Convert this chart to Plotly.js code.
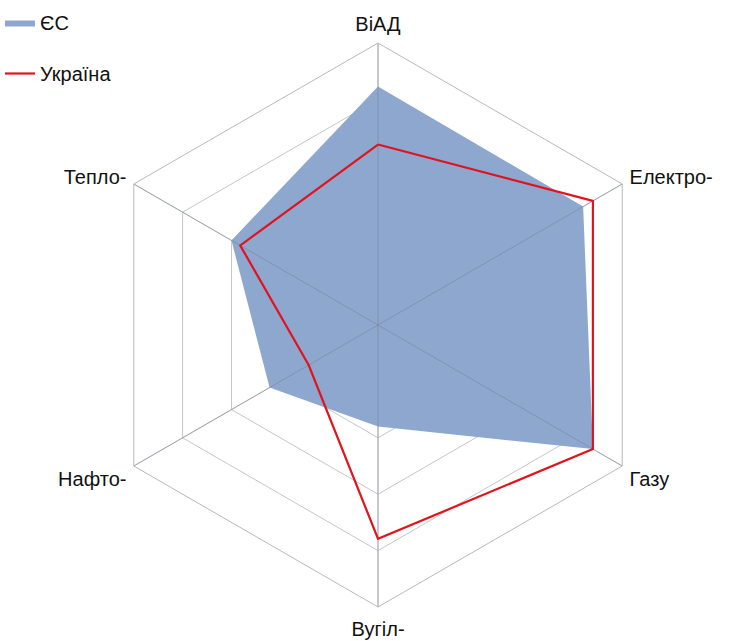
<!DOCTYPE html>
<html><head><meta charset="utf-8">
<script src="https://cdn.plot.ly/plotly-3.0.1.min.js"></script>
<style>html,body{margin:0;padding:0;background:#fff}#chart{width:737px;height:641px}</style>
</head><body><div id="chart"></div>
<script>
const categories = ['ВіАД', 'Електро-', 'Газу', 'Вугіл-', 'Нафто-', 'Тепло-'];
const euValues = [4.23, 4.2, 4.4, 1.8, 2.22, 3.0];
const uaValues = [3.2, 4.4, 4.4, 3.79, 1.42, 2.82];
const seriesNames = ['ЄС', 'Україна'];
const rMax = 5;

const closeLoop = a => a.concat([a[0]]);
const thetaClosed = closeLoop(categories);

const traces = [
  {
    type: 'scatterpolar', name: seriesNames[0], r: closeLoop(euValues), theta: thetaClosed,
    fill: 'toself', fillcolor: '#8ea7cf', mode: 'lines', line: {color: '#8ea7cf', width: 0},
    legendgroup: 'a', hoverinfo: 'r+theta'
  }
];
// spokes shown over the filled area (as in the reference)
categories.forEach(c => {
  traces.push({
    type: 'scatterpolar', r: [0, rMax], theta: [c, c], mode: 'lines',
    line: {color: 'rgba(120,130,150,0.55)', width: 1}, showlegend: false, hoverinfo: 'skip'
  });
});
traces.push({
  type: 'scatterpolar', name: seriesNames[1], r: closeLoop(uaValues), theta: thetaClosed,
  mode: 'lines', line: {color: '#e0141e', width: 2.2}, legendgroup: 'b'
});

const R = 282, cx = 378, cy = 325, W = 737, H = 641;
const layout = {
  width: W, height: H,
  margin: {l: 0, r: 0, t: 0, b: 0},
  paper_bgcolor: '#fff',
  font: {family: 'Liberation Sans, Arial, sans-serif', size: 20, color: '#111'},
  showlegend: true,
  legend: {x: 0.0, y: 1 - 3 / H, xanchor: 'left', yanchor: 'top', traceorder: 'grouped',
           tracegroupgap: 22, font: {size: 20, color: '#111'}, itemwidth: 30, bgcolor: 'rgba(0,0,0,0)'},
  polar: {
    domain: {x: [(cx - R) / W, (cx + R) / W], y: [(H - cy - R) / H, (H - cy + R) / H]},
    gridshape: 'linear',
    bgcolor: '#fff',
    radialaxis: {range: [0, rMax], dtick: 1, tick0: 0, showticklabels: false, ticks: '',
                 showline: false, gridcolor: '#c6c6c6', gridwidth: 1},
    angularaxis: {rotation: 90, direction: 'clockwise', type: 'category',
                  showline: true, linecolor: '#b8b8b8', linewidth: 1,
                  gridcolor: '#c6c6c6', gridwidth: 1,
                  ticks: 'outside', ticklen: 4, tickcolor: 'rgba(0,0,0,0)',
                  tickfont: {size: 20, color: '#111'}}
  }
};
Plotly.newPlot('chart', traces, layout, {displayModeBar: false, staticPlot: true});
</script></body></html>
